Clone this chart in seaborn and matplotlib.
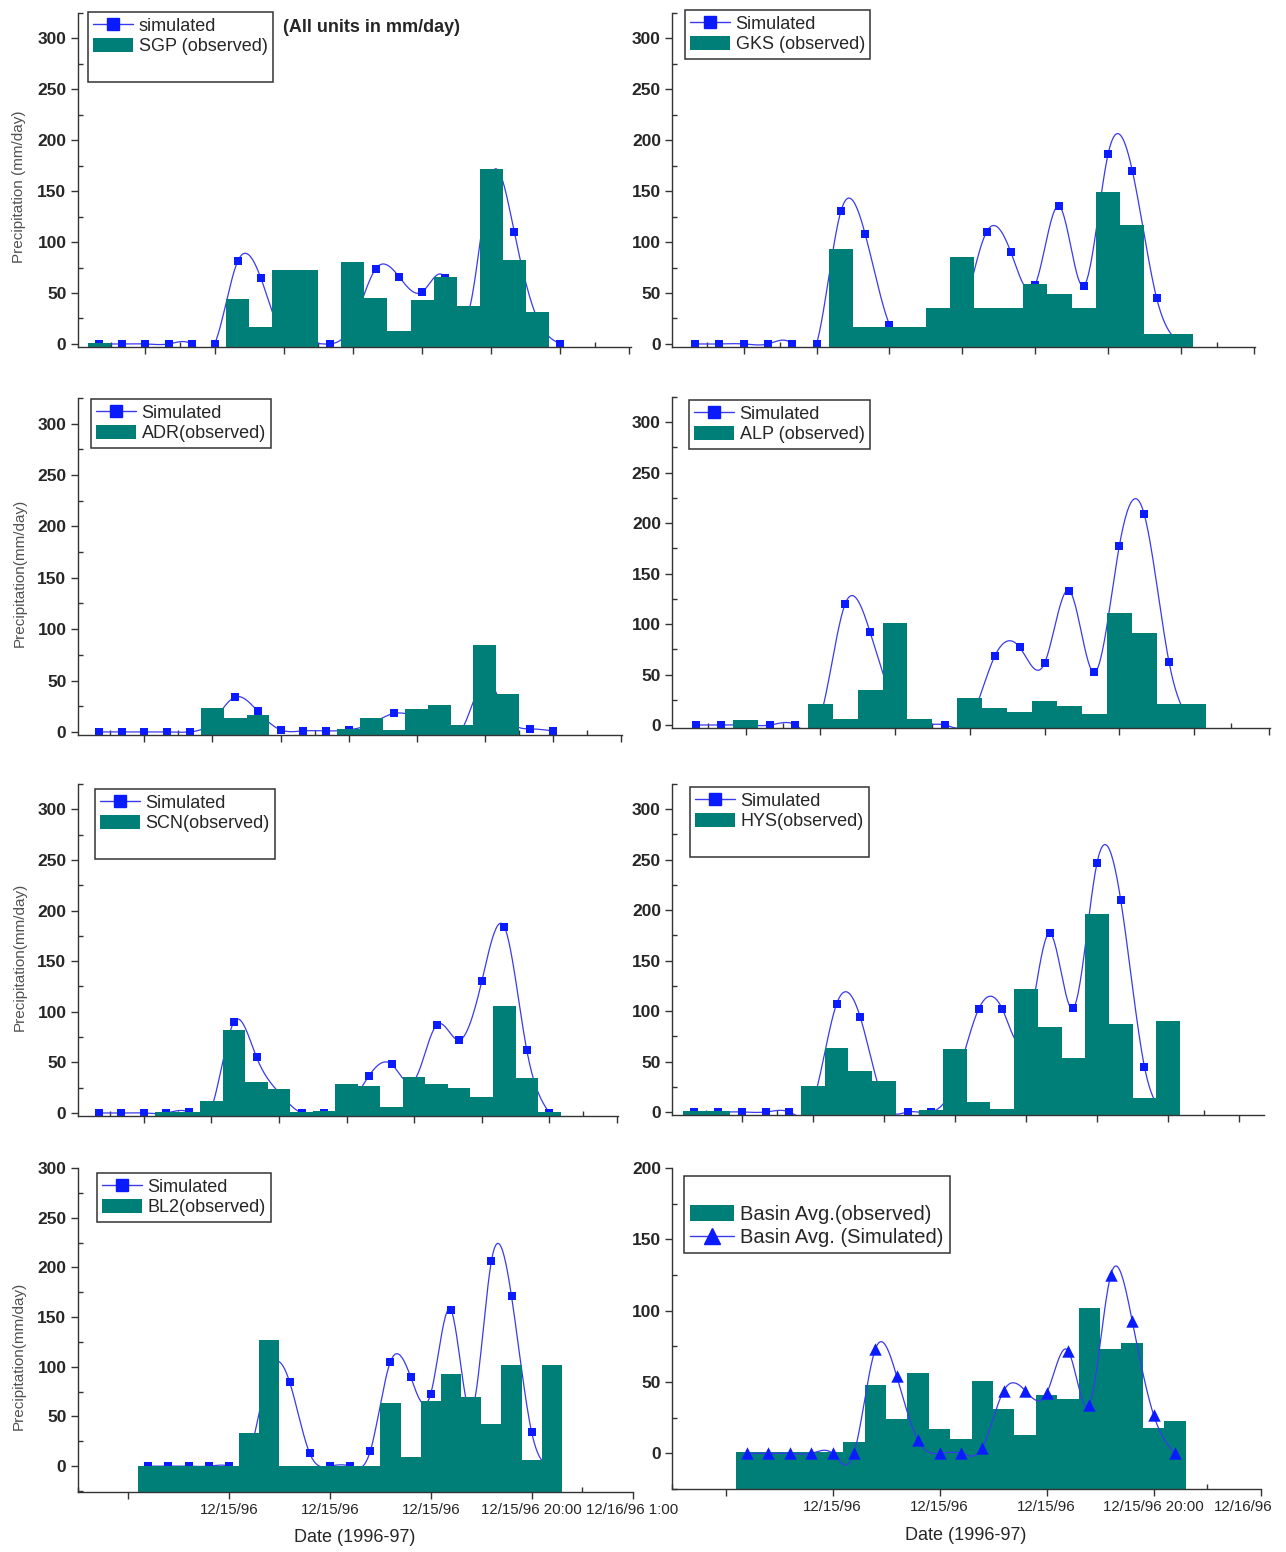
import numpy as np
import matplotlib
matplotlib.use('Agg')
import matplotlib.pyplot as plt
import seaborn as sns
from matplotlib.lines import Line2D
from matplotlib.patches import Patch
from matplotlib.ticker import MultipleLocator, FixedLocator
from matplotlib.transforms import ScaledTranslation

# ---- data (mm/day) ----
# station panels: time steps 1..21
steps = list(range(1, 22))

sgp_obs = [1, 0, 0, 0, 0, 0, 44, 17, 73, 73, 0, 80, 45, 13, 43, 66, 37, 172, 82, 31, 0]
sgp_sim = [0, 0, 0, 0, 0, 0, 81, 65, 5, 0, 0, 20, 74, 66, 51, 65, 30, 165, 110, 25, 0]

gks_obs = [0, 0, 0, 0, 0, 0, 93, 17, 17, 17, 35, 85, 35, 35, 59, 49, 35, 149, 117, 10, 10]
gks_sim = [0, 0, 0, 0, 0, 0, 130, 108, 19, 0, 5, 30, 110, 90, 58, 135, 57, 186, 170, 45, 0]

adr_obs = [0, 0, 0, 0, 0, 23, 14, 16, 0, 0, 0, 3, 14, 2, 22, 26, 7, 85, 37, 0, 0]
adr_sim = [0, 0, 0, 0, 0, 10, 34, 20, 2, 1, 1, 2, 8, 18, 15, 5, 3, 50, 15, 3, 1]

alp_obs = [0, 0, 5, 0, 0, 21, 6, 35, 101, 6, 0, 27, 17, 13, 24, 19, 11, 111, 91, 21, 21]
alp_sim = [0, 0, 0, 0, 0, 8, 120, 92, 20, 0, 0, 5, 68, 77, 61, 133, 52, 177, 209, 62, 0]

scn_obs = [0, 0, 0, 1, 1, 12, 82, 31, 24, 1, 2, 29, 27, 6, 36, 29, 25, 16, 106, 35, 1]
scn_sim = [0, 0, 0, 0, 0.5, 5, 90, 55, 20, 0, 0, 5, 37, 48, 32, 87, 72, 130, 184, 62, 0]

hys_obs = [1, 1, 0, 0, 0, 26, 63, 41, 31, 0, 2, 62, 10, 3, 122, 84, 53, 196, 87, 14, 90]
hys_sim = [0, 0, 0, 0, 0, 10, 107, 94, 10, 0, 0, 30, 102, 102, 75, 177, 103, 247, 210, 45, 0]

# bottom panels: hourly steps 3..23
hours = list(range(3, 24))

bl2_obs = [0, 0, 0, 0, 0, 33, 127, 0, 0, 0, 0, 0, 64, 9, 66, 93, 70, 42, 102, 6, 102]
bl2_sim = [0, 0, 0, 0, 0, 12, 95, 85, 13, 0, 0, 15, 105, 90, 73, 157, 55, 206, 171, 34, 0]

basin_obs = [1, 1, 1, 1, 1, 8, 48, 24, 56, 17, 10, 51, 31, 13, 41, 38, 102, 73, 77, 18, 23]
basin_sim = [0, 0, 0, 0, 0, 0, 73, 54, 9, 0, 0, 4, 44, 44, 42, 72, 34, 125, 93, 27, 0]

date_labels_left = ['', '12/15/96', '12/15/96', '12/15/96', '12/15/96 20:00', '12/16/96 1:00']
date_labels_right = ['', '12/15/96', '12/15/96', '12/15/96', '12/15/96 20:00', '12/16/96']

TEAL = '#007f79'
LINE = '#3a3aee'
MARK = '#0a1cff'

sns.set_style('ticks')
plt.rcParams['font.family'] = ['Liberation Sans', 'DejaVu Sans']

W, H = 1286, 1552
fig = plt.figure(figsize=(W / 100, H / 100), dpi=100)
fig.patch.set_facecolor('white')


def rect(l, r, t, b):
    return [l / W, 1 - b / H, (r - l) / W, (b - t) / H]


def spline_curve(xs, ys, n=25):
    # natural cubic spline through the points (Origin style "spline" connection)
    x = np.asarray(xs, float)
    y = np.asarray(ys, float)
    k = len(x)
    h = np.diff(x)
    A = np.zeros((k, k))
    r = np.zeros(k)
    A[0, 0] = A[-1, -1] = 1
    for i in range(1, k - 1):
        A[i, i - 1] = h[i - 1]
        A[i, i] = 2 * (h[i - 1] + h[i])
        A[i, i + 1] = h[i]
        r[i] = 6 * ((y[i + 1] - y[i]) / h[i] - (y[i] - y[i - 1]) / h[i - 1])
    M = np.linalg.solve(A, r)
    cx, cy = [], []
    for i in range(k - 1):
        t = np.linspace(x[i], x[i + 1], n, endpoint=(i == k - 2))
        a = x[i + 1] - t
        b = t - x[i]
        s = (M[i] * a ** 3 / (6 * h[i]) + M[i + 1] * b ** 3 / (6 * h[i])
             + (y[i] / h[i] - M[i] * h[i] / 6) * a + (y[i + 1] / h[i] - M[i + 1] * h[i] / 6) * b)
        cx.append(t)
        cy.append(s)
    return np.concatenate(cx), np.concatenate(cy)


def draw_panel(ax, x, obs, sim, ylo, yhi, bars_top=True, marker='s', ms=34, full_floor=False):
    obs = np.asarray(obs, float)
    # bars reach down to the axis line; empty slots stay empty unless full_floor
    floor = np.full(len(obs), ylo) if full_floor else np.where(obs > 0, ylo, 0.0)
    ax.bar(x, obs - floor, bottom=floor, width=1.0, color=TEAL,
           linewidth=0, zorder=3 if bars_top else 1)
    cx, cy = spline_curve(x, sim)
    sns.lineplot(x=cx, y=cy, ax=ax, color=LINE, lw=0.9, sort=False, estimator=None,
                 zorder=2 if bars_top else 3)
    sns.scatterplot(x=x, y=sim, ax=ax, marker=marker, s=ms, color=MARK, edgecolor=MARK,
                    linewidth=0, zorder=2.5 if bars_top else 4)
    ax.set_ylim(ylo, yhi)
    for s in ['top', 'right']:
        ax.spines[s].set_visible(False)
    for s in ['left', 'bottom']:
        ax.spines[s].set_color('#333333')
        ax.spines[s].set_linewidth(1.0)
        ax.spines[s].set_zorder(5)
    ax.yaxis.set_minor_locator(MultipleLocator(25))
    ax.tick_params(which='major', direction='out', length=5, width=1, color='#333333', pad=3)
    ax.tick_params(which='minor', direction='in', length=3.5, width=1, color='#333333')
    ax.tick_params(axis='y', labelsize=12.5)
    ax.set_xlabel('')
    ax.set_ylabel('')
    ax.set_facecolor('white')


def add_legend(ax, items, anchor, fs=13):
    handles = []
    for kind, label in items:
        if kind == 'sq':
            handles.append(Line2D([], [], color=LINE, lw=1, marker='s', markersize=9,
                                  markerfacecolor=MARK, markeredgecolor=MARK, label=label))
        elif kind == 'tri':
            handles.append(Line2D([], [], color=LINE, lw=1, marker='^', markersize=12,
                                  markerfacecolor=MARK, markeredgecolor=MARK, label=label))
        elif kind == 'bar':
            handles.append(Patch(facecolor=TEAL, edgecolor='none', label=label))
        else:
            handles.append(Patch(facecolor='none', edgecolor='none', label=' '))
    leg = ax.legend(handles=handles, loc='upper left',
                    bbox_to_anchor=(anchor[0] / W, 1 - anchor[1] / H),
                    bbox_transform=fig.transFigure, borderaxespad=0, fontsize=fs,
                    frameon=True, fancybox=False, framealpha=1, edgecolor='#333333',
                    handlelength=2.2, handleheight=0.8, handletextpad=0.3,
                    labelspacing=0.2, borderpad=0.3)
    leg.get_frame().set_linewidth(1.1)
    leg.set_zorder(10)


def station_axes(ax, xmax=24):
    ax.set_xlim(0.05, xmax + 0.05)
    ax.xaxis.set_major_locator(MultipleLocator(3))
    ax.xaxis.set_minor_locator(MultipleLocator(1.5))
    ax.set_xticklabels([])
    ax.set_yticks(range(0, 301, 50))


def date_axes(ax, labels):
    ax.set_xlim(-0.5, 27)
    ax.xaxis.set_major_locator(FixedLocator([2.0, 7.0, 12.0, 17.0, 22.0, 27.0]))
    ax.xaxis.set_minor_locator(FixedLocator([-0.5, 4.5, 9.5, 14.5, 19.5, 24.5]))
    ax.set_xticklabels(labels, fontsize=10.8)


panels = [
    (rect(77.5, 630.6, 12.7, 347), steps, sgp_obs, sgp_sim),
    (rect(672, 1255, 12.7, 347), steps, gks_obs, gks_sim),
    (rect(77.5, 622, 398, 735), steps, adr_obs, adr_sim),
    (rect(672, 1270, 397, 728), steps, alp_obs, alp_sim),
    (rect(77.5, 618, 784, 1116), steps, scn_obs, scn_sim),
    (rect(672, 1264, 784, 1115), steps, hys_obs, hys_sim),
]
axes = []
for i, (r, x, o, s) in enumerate(panels):
    ax = fig.add_axes(r)
    draw_panel(ax, x, o, s, -3, 325)
    station_axes(ax, 25 if i == 5 else 24)
    axes.append(ax)

ax7 = fig.add_axes(rect(77.6, 632.6, 1168, 1492))
draw_panel(ax7, hours, bl2_obs, bl2_sim, -26, 300, full_floor=True)
ax7.set_yticks(range(0, 301, 50))
date_axes(ax7, date_labels_left)

ax8 = fig.add_axes(rect(672, 1260.6, 1168, 1489))
draw_panel(ax8, hours, basin_obs, basin_sim, -25, 200, bars_top=False, marker='^', ms=80,
           full_floor=True)
ax8.set_yticks(range(0, 201, 50))
date_axes(ax8, date_labels_right)
last = ax8.get_xticklabels()[-1]
last.set_transform(last.get_transform() + ScaledTranslation(-0.17, 0, fig.dpi_scale_trans))

for ax in axes + [ax7, ax8]:
    for lab in ax.get_yticklabels():
        lab.set_fontweight('bold')

# y labels
ylabels = {0: 'Precipitation (mm/day)', 2: 'Precipitation(mm/day)', 4: 'Precipitation(mm/day)'}
for i, txt in ylabels.items():
    axes[i].set_ylabel(txt, fontsize=11, color='#505050')
    axes[i].yaxis.set_label_coords(-0.093, 0.48)
ax7.set_ylabel('Precipitation(mm/day)', fontsize=11, color='#505050')
ax7.yaxis.set_label_coords(-0.093, 0.42)

# legends
add_legend(axes[0], [('sq', 'simulated'), ('bar', 'SGP (observed)'), ('blank', '')], (88, 12))
add_legend(axes[1], [('sq', 'Simulated'), ('bar', 'GKS (observed)')], (685, 10))
add_legend(axes[2], [('sq', 'Simulated'), ('bar', 'ADR(observed)')], (91, 399))
add_legend(axes[3], [('sq', 'Simulated'), ('bar', 'ALP (observed)')], (689, 400))
add_legend(axes[4], [('sq', 'Simulated'), ('bar', 'SCN(observed)'), ('blank', '')], (95, 789))
add_legend(axes[5], [('sq', 'Simulated'), ('bar', 'HYS(observed)'), ('blank', '')], (690, 787))
add_legend(ax7, [('sq', 'Simulated'), ('bar', 'BL2(observed)')], (97, 1173))
add_legend(ax8, [('blank', ''), ('bar', 'Basin Avg.(observed)'), ('tri', 'Basin Avg. (Simulated)')],
           (684, 1176), fs=14.5)

fig.text(283 / W, 1 - 28 / H, '(All units in mm/day)', fontsize=13, fontweight='bold',
         ha='left', va='center')
fig.text(355 / W, 1 - 1538 / H, 'Date (1996-97)', fontsize=13, ha='center', va='center')
fig.text(966 / W, 1 - 1535 / H, 'Date (1996-97)', fontsize=13, ha='center', va='center')

fig.savefig('out.png', dpi=100)
